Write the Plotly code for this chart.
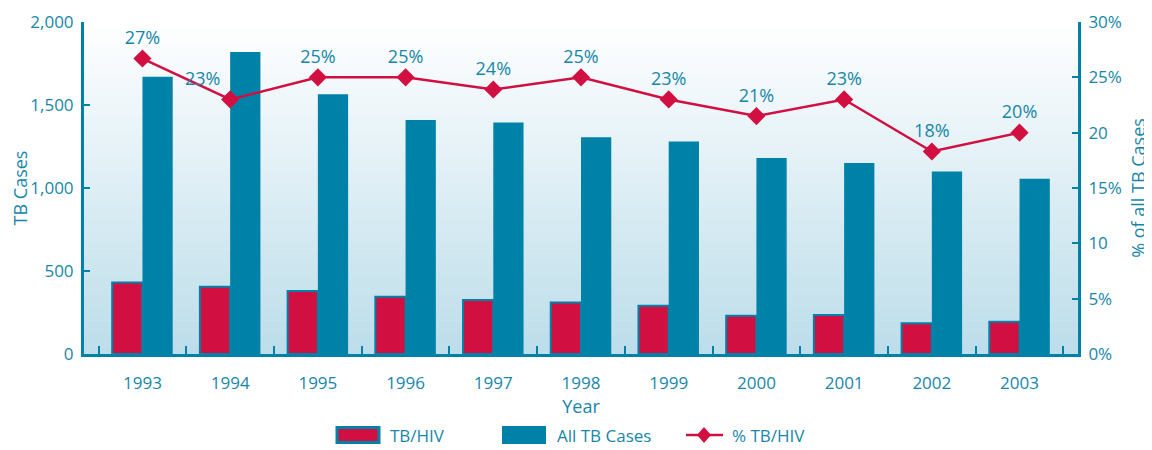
import plotly.graph_objects as go

years = ["1993", "1994", "1995", "1996", "1997", "1998", "1999", "2000", "2001", "2002", "2003"]
tb_hiv = [430, 405, 380, 345, 325, 310, 290, 230, 235, 185, 195]
all_tb = [1670, 1820, 1565, 1410, 1395, 1305, 1280, 1180, 1150, 1100, 1055]
pct_tb_hiv = [26.7, 23.0, 25.0, 25.0, 23.9, 25.0, 23.0, 21.5, 23.0, 18.3, 20.0]
pct_labels = ["27%", "23%", "25%", "25%", "24%", "25%", "23%", "21%", "23%", "18%", "20%"]
pct_text_pos = ["top center", "top left", "top center", "top center", "top center", "top center",
                "top center", "top center", "top center", "top center", "top center"]
left_ticks = [0, 500, 1000, 1500, 2000]
left_ticktext = ["0", "500", "1,000", "1,500", "2,000"]
right_ticks = [0, 5, 10, 15, 20, 25, 30]
right_ticktext = ["0%", "5%", "10", "15%", "20", "25%", "30%"]
legend_names = ["TB/HIV", "All TB Cases", "% TB/HIV"]

TEAL = "#0082a8"
RED = "#d10f41"
TXT = "#1786a9"
FONT = "Open Sans"

fig = go.Figure()
fig.add_trace(go.Bar(x=years, y=tb_hiv, name=legend_names[0], showlegend=False,
                     marker=dict(color=RED, line=dict(color=TEAL, width=2))))
fig.add_trace(go.Bar(x=years, y=all_tb, name=legend_names[1], showlegend=False,
                     marker=dict(color=TEAL, line=dict(color=TEAL, width=0))))
fig.add_trace(go.Scatter(x=years, y=pct_tb_hiv, name=legend_names[2], yaxis="y2", showlegend=False,
                         mode="lines+markers+text",
                         line=dict(color=RED, width=2.5), marker=dict(symbol="diamond", size=14, color=RED),
                         text=pct_labels, textposition=pct_text_pos,
                         textfont=dict(color=TXT, size=18, family=FONT), cliponaxis=False))

# vertical gradient background
shapes = []
n = 60
top = (255, 255, 255)
bot = (188, 221, 234)
for i in range(n):
    t = (i + 0.5) / n
    c = tuple(int(round(top[k] + (bot[k] - top[k]) * t)) for k in range(3))
    shapes.append(dict(type="rect", xref="x domain", yref="y domain", x0=0, x1=1,
                       y0=1 - (i + 1) / n, y1=1 - i / n + 0.002, fillcolor="rgb(%d,%d,%d)" % c,
                       line=dict(width=0), layer="below"))

# custom legend (pixel positions in the window converted to paper units of the plot area)
PL, PW, PB, PH = 84, 994, 354, 332
def px(v):
    return (v - PL) / PW
def py(v):
    return (PB - v) / PH

annotations = []
ly = 435
shapes.append(dict(type="rect", xref="paper", yref="paper", x0=px(337), x1=px(379),
                   y0=py(ly + 7.5), y1=py(ly - 7.5), fillcolor=RED, line=dict(color=TEAL, width=3)))
shapes.append(dict(type="rect", xref="paper", yref="paper", x0=px(502), x1=px(546),
                   y0=py(ly + 9), y1=py(ly - 9), fillcolor=TEAL, line=dict(width=0)))
shapes.append(dict(type="line", xref="paper", yref="paper", x0=px(686), x1=px(723),
                   y0=py(ly), y1=py(ly), line=dict(color=RED, width=2.5)))
dx, dy = 7, 8
shapes.append(dict(type="path", xref="paper", yref="paper",
                   path="M %f %f L %f %f L %f %f L %f %f Z" % (
                       px(704), py(ly - dy), px(704 + dx), py(ly), px(704), py(ly + dy), px(704 - dx), py(ly)),
                   fillcolor=RED, line=dict(width=0)))
for name, xpos in zip(legend_names, [388, 555, 730]):
    annotations.append(dict(text=name, xref="paper", yref="paper", x=px(xpos), y=py(ly),
                            xanchor="left", yanchor="middle", showarrow=False,
                            font=dict(size=17, color=TXT, family=FONT)))

# page body has an 8px margin; figure sized to fit the remaining window
fig.update_layout(
    width=1144, height=442,
    margin=dict(l=76, r=74, t=14, b=96),
    paper_bgcolor="white", plot_bgcolor="white",
    barmode="group", bargap=0.31, bargroupgap=0,
    shapes=shapes, annotations=annotations,
    font=dict(family=FONT, color=TXT, size=16),
    showlegend=False,
    xaxis=dict(title=dict(text="Year", font=dict(size=18, color=TXT), standoff=2),
               showline=True, linecolor=TEAL, linewidth=3, ticks="inside", tickson="boundaries",
               ticklen=8, tickwidth=2, tickcolor=TEAL, tickfont=dict(size=17, color=TXT),
               ticklabelstandoff=12, automargin=False,
               showgrid=False, zeroline=False),
    yaxis=dict(title=dict(text="TB Cases", font=dict(size=18, color=TXT), standoff=4),
               range=[0, 2000], tickvals=left_ticks, ticktext=left_ticktext, automargin=False,
               ticklabelstandoff=4,
               showline=True, linecolor=TEAL, linewidth=3, ticks="inside", ticklen=6, tickwidth=2,
               tickcolor=TEAL, tickfont=dict(size=17, color=TXT), showgrid=False, zeroline=False),
    yaxis2=dict(title=dict(text="% of all TB Cases", font=dict(size=18, color=TXT), standoff=12),
                overlaying="y", side="right", range=[0, 30], tickvals=right_ticks, ticktext=right_ticktext,
                automargin=False, ticklabelstandoff=4,
                showline=True, linecolor=TEAL, linewidth=3, ticks="inside", ticklen=6, tickwidth=2,
                tickcolor=TEAL, tickfont=dict(size=17, color=TXT), showgrid=False, zeroline=False),
)

fig.write_html("out.html")
